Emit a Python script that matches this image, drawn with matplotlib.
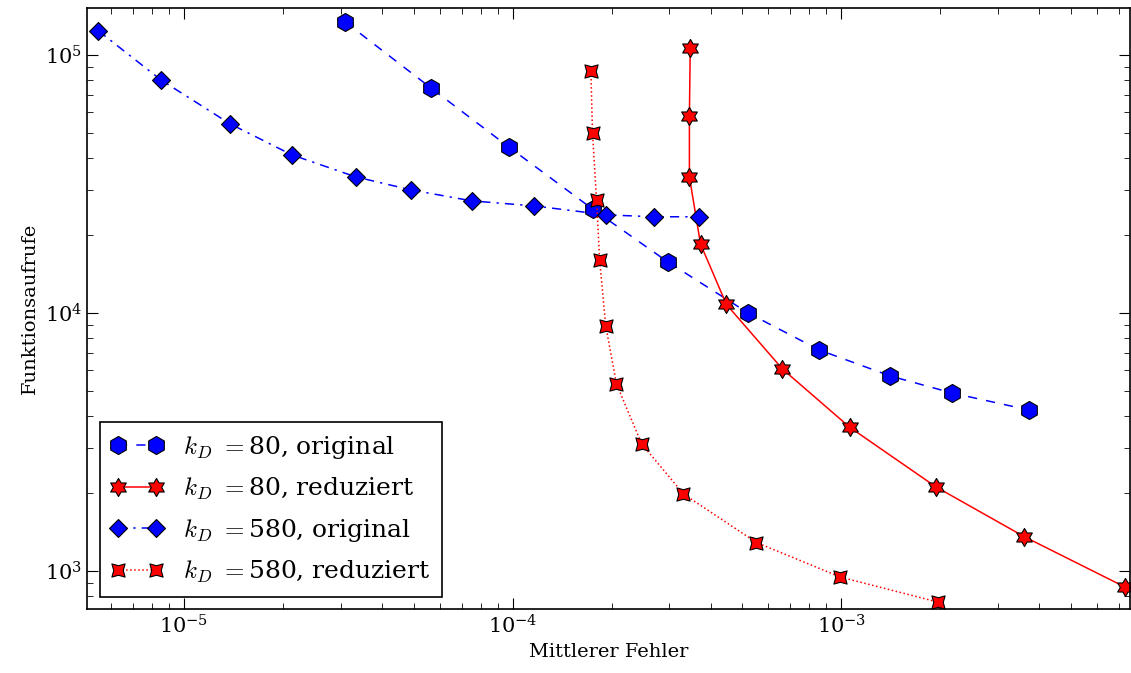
import matplotlib
matplotlib.use("Agg")
import matplotlib.pyplot as plt
import numpy as np
from matplotlib.path import Path

plt.rcParams['font.family'] = ['DejaVu Serif']
plt.rcParams['mathtext.fontset'] = 'cm'

# kD = 80, original
x80o = [3.10e-5, 5.64e-5, 9.73e-5, 1.75e-4, 2.96e-4, 5.21e-4, 8.57e-4, 1.41e-3, 2.17e-3, 3.72e-3]
y80o = [1.34e5, 7.45e4, 4.40e4, 2.53e4, 1.58e4, 1.0e4, 7.19e3, 5.70e3, 4.90e3, 4.21e3]
# kD = 80, reduziert
x80r = [3.47e-4, 3.45e-4, 3.45e-4, 3.73e-4, 4.47e-4, 6.62e-4, 1.06e-3, 1.94e-3, 3.60e-3, 7.30e-3]
y80r = [1.06e5, 5.81e4, 3.37e4, 1.85e4, 1.08e4, 6.07e3, 3.61e3, 2.12e3, 1.36e3, 867]
# kD = 580, original
x580o = [5.49e-6, 8.51e-6, 1.38e-5, 2.13e-5, 3.33e-5, 4.90e-5, 7.50e-5, 1.16e-4, 1.93e-4, 2.70e-4, 3.70e-4]
y580o = [1.24e5, 8.0e4, 5.41e4, 4.10e4, 3.37e4, 3.00e4, 2.72e4, 2.60e4, 2.40e4, 2.36e4, 2.36e4]
# kD = 580, reduziert
x580r = [1.73e-4, 1.75e-4, 1.80e-4, 1.84e-4, 1.92e-4, 2.07e-4, 2.47e-4, 3.31e-4, 5.52e-4, 9.94e-4, 1.97e-3]
y580r = [8.67e4, 4.99e4, 2.74e4, 1.60e4, 8.91e3, 5.31e3, 3.11e3, 1.99e3, 1.29e3, 948, 758]

labels = [r'$k_D$ $=$80, original', r'$k_D$ $=$80, reduziert',
          r'$k_D$ $=$580, original', r'$k_D$ $=$580, reduziert']

# custom markers
ang = np.linspace(0, 2*np.pi, 13)[:-1] + np.pi/2
rad = np.where(np.arange(12) % 2 == 0, 1.0, 0.58)
star6 = Path(np.column_stack([rad*np.cos(ang), rad*np.sin(ang)]).tolist() + [[0, 1]], closed=True)
sq = [[1, 1], [0, 0.72], [-1, 1], [-0.72, 0], [-1, -1], [0, -0.72], [1, -1], [0.72, 0], [1, 1]]
concave = Path(sq, closed=True)

fig = plt.figure(figsize=(11.31, 6.73), dpi=100)
ax = fig.add_axes([87/1131, 1-609/673, (1131-87)/1131 - 0.001, (609-8)/673])

common = dict(markeredgecolor='black', markeredgewidth=0.8, linewidth=1.1)
ax.loglog(x80o, y80o, linestyle='--', dashes=(6, 6), color='blue', marker='h', markersize=13,
          markerfacecolor='blue', label=labels[0], **common)
ax.loglog(x80r, y80r, linestyle='-', color='red', marker=star6, markersize=13,
          markerfacecolor='red', label=labels[1], **common)
ax.loglog(x580o, y580o, linestyle='-.', dashes=(6, 4, 1.5, 4), color='blue', marker='D', markersize=9.5,
          markerfacecolor='blue', label=labels[2], **common)
ax.loglog(x580r, y580r, linestyle=':', color='red', marker=concave, markersize=9.5,
          markerfacecolor='red', label=labels[3], **common)

ax.set_xlim(5.07e-6, 7.55e-3)
ax.set_ylim(713, 1.52e5)
ax.set_xlabel('Mittlerer Fehler', fontsize=14)
ax.set_ylabel('Funktionsaufrufe', fontsize=14)
ax.tick_params(which='both', direction='in', top=True, right=True, labelsize=15)
ax.tick_params(which='major', length=8)
ax.tick_params(which='minor', length=4)
for s in ax.spines.values():
    s.set_linewidth(1.2)

leg = ax.legend(loc='lower left', fontsize=18, fancybox=False, edgecolor='black',
                framealpha=1, borderaxespad=0.5, handlelength=2.1, labelspacing=0.6,
                numpoints=2, handletextpad=0.8, borderpad=0.45)
leg.get_frame().set_linewidth(1.2)

fig.savefig('out.png', dpi=100)
